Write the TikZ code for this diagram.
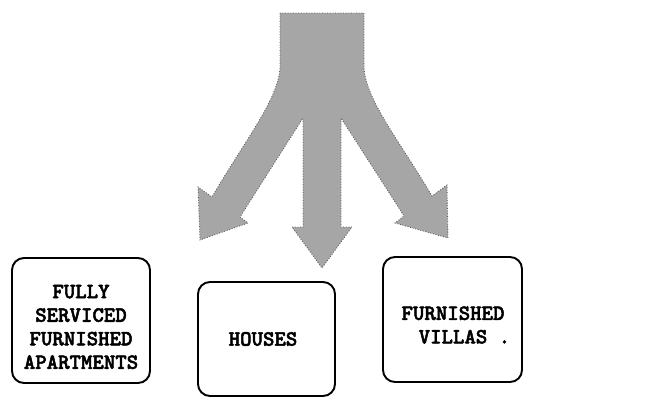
\documentclass[tikz,border=0pt]{standalone}
\usepackage{fontspec}
\newfontfamily\boldtype[FakeBold=2.2]{lmmonolt10-bold.otf}
\tikzset{
  housingbox/.style={line width=1.1pt, rounded corners=0.24cm},
  boxlabel/.style={align=center, inner sep=0pt,
    font=\boldtype\fontsize{12.4}{13.4}\selectfont},
  flowshape/.style={fill=black!35, draw=black!65, densely dotted, line width=0.5pt}
}
\begin{document}
\begin{tikzpicture}[x=0.02cm,y=-0.02cm]
\useasboundingbox (0,0) rectangle (648,399);

% the split arrow
\draw[flowshape] (280,13) -- (280,68)
  .. controls (278,100) and (245,140) .. (212,197)
  -- (198,187) -- (200,240) -- (248,223) -- (240,217)
  -- (303,118) -- (303,227) -- (292,227) -- (322,268) -- (352,227) -- (341,227)
  -- (341,118) -- (404,216) -- (395,223) -- (448,238) -- (447,185) -- (432,196)
  .. controls (399,140) and (366,100) .. (364,68)
  -- (364,13) -- cycle;

% boxes
\draw[housingbox] (12,258) rectangle (150,383);
\draw[housingbox] (198,282) rectangle (335,396);
\draw[housingbox] (383,257) rectangle (522,382);

\node[boxlabel] (apartments) at (81,327) {FULLY\\SERVICED\\FURNISHED\\APARTMENTS};
\node[boxlabel] (houses) at (263,339) {HOUSES};
\node[boxlabel] (villas) at (453,325) {FURNISHED\\VILLAS\rlap{ .}};
\end{tikzpicture}
\end{document}
